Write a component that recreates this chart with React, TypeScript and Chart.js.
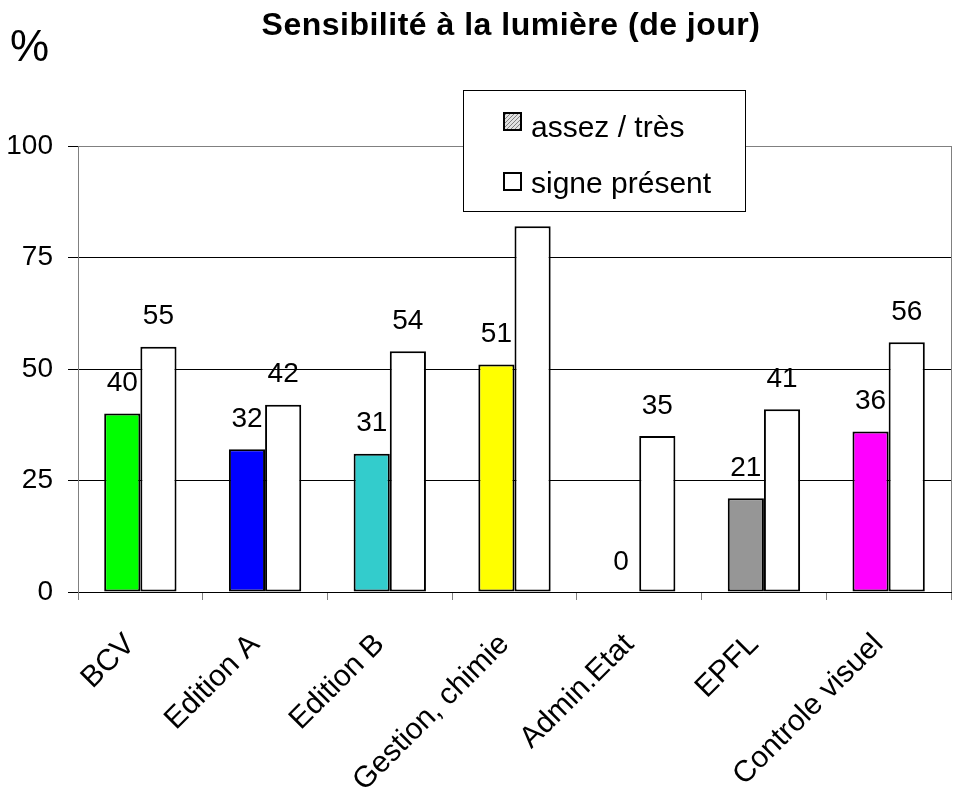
import React, { useEffect, useRef } from "react";
import { Chart, registerables } from "chart.js";
Chart.register(...registerables);

const categories = ["BCV", "Edition A", "Edition B", "Gestion, chimie", "Admin.Etat", "EPFL", "Controle visuel"];
const assezTres = [40, 32, 31, 51, 0, 21, 36];
const signePresent = [55, 42, 54, 82, 35, 41, 56];
const assezColors = ["#00FF00", "#0000FF", "#33CCCC", "#FFFF00", "#969696", "#969696", "#FF00FF"];
const hiddenSigneLabels = [3];
const yTicks = [0, 25, 50, 75, 100];
const titleText = "Sensibilité à la lumière (de jour)";
const yUnit = "%";
const legendLabels = ["assez / très", "signe présent"];

const FONT = "'Liberation Sans', Arial, sans-serif";

function makeHatch(ctx: CanvasRenderingContext2D) {
  const c = document.createElement("canvas");
  c.width = 4;
  c.height = 4;
  const g = c.getContext("2d")!;
  g.fillStyle = "#e0e0e0";
  g.fillRect(0, 0, 4, 4);
  g.fillStyle = "#808080";
  g.fillRect(0, 3, 1, 1);
  g.fillRect(1, 2, 1, 1);
  g.fillRect(2, 1, 1, 1);
  g.fillRect(3, 0, 1, 1);
  return ctx.createPattern(c, "repeat");
}

const decorPlugin = {
  id: "decor",
  beforeDatasetsDraw(chart: any) {
    const { ctx, chartArea } = chart;
    ctx.save();
    ctx.strokeStyle = "#808080";
    ctx.lineWidth = 1;
    ctx.beginPath();
    ctx.moveTo(Math.round(chartArea.right) + 0.5, chartArea.top);
    ctx.lineTo(Math.round(chartArea.right) + 0.5, chartArea.bottom);
    ctx.stroke();
    ctx.restore();
  },
  afterDatasetsDraw(chart: any) {
    const { ctx } = chart;
    ctx.save();
    ctx.fillStyle = "#000";
    ctx.font = `28px ${FONT}`;
    ctx.textAlign = "center";
    ctx.textBaseline = "middle";
    chart.data.datasets.forEach((ds: any, di: number) => {
      const meta = chart.getDatasetMeta(di);
      meta.data.forEach((bar: any, i: number) => {
        if (di === 1 && hiddenSigneLabels.includes(i)) return;
        ctx.fillText(String(ds.data[i]), bar.x, bar.y - 30);
      });
    });

    // title
    ctx.textBaseline = "alphabetic";
    ctx.font = `bold 32px ${FONT}`;
    (ctx as any).letterSpacing = "0.5px";
    ctx.fillText(titleText, 511, 35);
    (ctx as any).letterSpacing = "0px";
    ctx.font = `44px ${FONT}`;
    ctx.textAlign = "left";
    ctx.fillText(yUnit, 10, 61);

    // legend
    ctx.fillStyle = "#fff";
    ctx.fillRect(463, 90, 282, 121);
    ctx.strokeStyle = "#000";
    ctx.lineWidth = 1;
    ctx.strokeRect(463.5, 90.5, 282, 121);
    const sw = [
      { y: 113, fill: makeHatch(ctx) },
      { y: 173, fill: "#fff" },
    ];
    const baselines = [137, 193];
    sw.forEach((s, i) => {
      ctx.fillStyle = s.fill as any;
      ctx.fillRect(504, s.y, 17, 17);
      ctx.strokeStyle = "#000";
      ctx.lineWidth = 2;
      ctx.strokeRect(504, s.y, 17, 17);
      ctx.fillStyle = "#000";
      ctx.font = `30px ${FONT}`;
      ctx.textAlign = "left";
      ctx.textBaseline = "alphabetic";
      ctx.fillText(legendLabels[i], 531, baselines[i]);
    });
    ctx.restore();
  },
};

export default function App() {
  const ref = useRef<HTMLCanvasElement | null>(null);
  useEffect(() => {
    document.body.style.margin = "0";
    const chart = new Chart(ref.current!, {
      type: "bar",
      data: {
        labels: categories,
        datasets: [
          {
            label: legendLabels[0],
            data: assezTres,
            backgroundColor: assezColors,
            borderColor: "#000",
            borderWidth: 2,
            borderSkipped: false,
            categoryPercentage: 0.58,
            barPercentage: 1.0,
          },
          {
            label: legendLabels[1],
            data: signePresent,
            backgroundColor: "#fff",
            borderColor: "#000",
            borderWidth: 2,
            borderSkipped: false,
            categoryPercentage: 0.58,
            barPercentage: 1.0,
          },
        ],
      },
      options: {
        animation: false,
        responsive: true,
        maintainAspectRatio: false,
        layout: { padding: { top: 146, right: 2, left: 0, bottom: 0 } },
        plugins: {
          legend: { display: false },
          title: { display: false },
          tooltip: { enabled: false },
        },
        scales: {
          x: {
            afterFit: (s: any) => {
              s.height = 206;
            },
            grid: {
              display: true,
              drawOnChartArea: false,
              offset: true,
              tickLength: 8,
              color: "#808080",
              lineWidth: 1,
            },
            border: { display: true, color: "#000", width: 1 },
            ticks: {
              minRotation: 45,
              maxRotation: 45,
              padding: 27,
              labelOffset: -10,
              color: "#000",
              font: { family: FONT, size: 30 },
              autoSkip: false,
            },
          },
          y: {
            min: 0,
            max: 100,
            afterFit: (s: any) => {
              s.width = 78;
            },
            afterBuildTicks: (s: any) => {
              s.ticks = yTicks.map((v) => ({ value: v }));
            },
            grid: {
              color: (c: any) => (c.tick && c.tick.value === 100 ? "#808080" : "#000"),
              tickColor: "#000",
              tickLength: 10,
              lineWidth: 1,
            },
            border: { display: true, color: "#808080", width: 1 },
            ticks: {
              padding: 15,
              color: "#000",
              font: { family: FONT, size: 28 },
            },
          },
        },
      },
      plugins: [decorPlugin],
    } as any);
    return () => chart.destroy();
  }, []);
  return (
    <div style={{ position: "absolute", left: 0, top: 0, width: 953, height: 798 }}>
      <canvas ref={ref} />
    </div>
  );
}
